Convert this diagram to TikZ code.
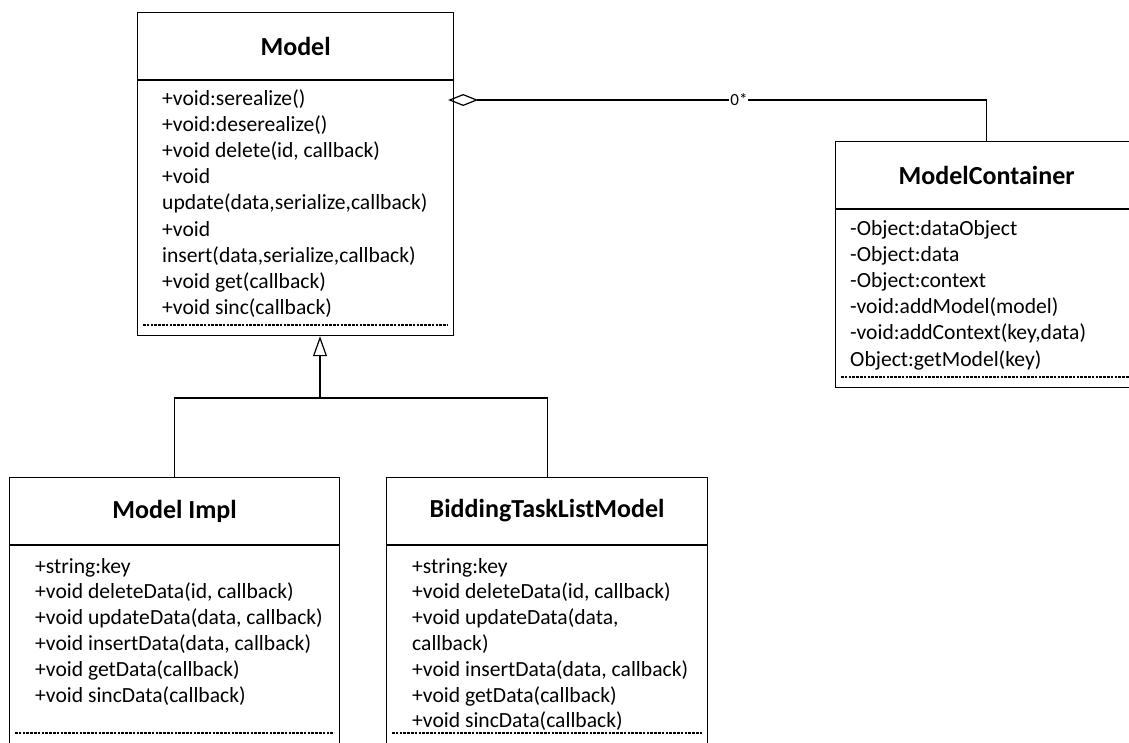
\documentclass[tikz,border=0pt]{standalone}
\usepackage{fontspec}
\setmainfont{Carlito}
\usetikzlibrary{arrows.meta}
\tikzset{
  classbox/.style={draw, line width=1.2pt, anchor=north west, inner sep=0pt},
  classname/.style={font=\bfseries\fontsize{26}{30}\selectfont},
  member/.style={anchor=west, inner sep=0pt, font=\fontsize{21.6}{25}\selectfont, text height=14pt, text depth=4pt},
  sepline/.style={line width=1.2pt},
  opline/.style={line width=1.1pt, dash pattern=on 2.5pt off 1.3pt},
  link/.style={line width=1.2pt},
}
\begin{document}
\begin{tikzpicture}[x=1pt,y=-1pt]
    \useasboundingbox (0,0) rectangle (1129,742);
    % class boxes
    \node[classbox, minimum width=316pt, minimum height=323pt] (model) at (137,12) {};
    \node[classbox, minimum width=302pt, minimum height=246pt] (cont) at (835,141) {};
    \node[classbox, minimum width=330pt, minimum height=300pt] (impl) at (9,477) {};
    \node[classbox, minimum width=321pt, minimum height=300pt] (bid) at (386,477) {};
    % headers
    \foreach \c in {model,cont,impl,bid}
        \draw[sepline] ([yshift=-68pt]\c.north west) -- ([yshift=-68pt]\c.north east);
    \node[classname] (model-t) at ([yshift=-34pt]model.north) {Model};
    \node[classname] (cont-t) at ([yshift=-34pt]cont.north) {ModelContainer};
    \node[classname] (impl-t) at ([yshift=-34pt]impl.north) {Model Impl};
    \node[classname] (bid-t) at ([yshift=-34pt]bid.north) {BiddingTaskListModel};
    % operation separators
    \draw[opline] ([shift={(6,313)}]model.north west) -- ([shift={(-6,313)}]model.north east);
    \draw[opline] ([shift={(6,236)}]cont.north west) -- ([shift={(-6,236)}]cont.north east);
    \draw[opline] ([shift={(6,256)}]impl.north west) -- ([shift={(-6,256)}]impl.north east);
    \draw[opline] ([shift={(6,256)}]bid.north west) -- ([shift={(-6,256)}]bid.north east);
    % members
    \foreach \t [count=\i from 0] in {+void:serealize(), +void:deserealize(),
        {+void delete(id, callback)}, +void, {update(data,serialize,callback)},
        +void, {insert(data,serialize,callback)}, +void get(callback), +void sinc(callback)}
        \node[member] (model-\i) at (162, 100+26.2*\i) {\t};
    \foreach \t [count=\i from 0] in {-Object:dataObject, -Object:data, -Object:context,
        -void:addModel(model), {-void:addContext(key,data)}, Object:getModel(key)}
        \node[member] (cont-\i) at (850, 230+26.2*\i) {\t};
    \foreach \t [count=\i from 0] in {+string:key, {+void deleteData(id, callback)},
        {+void updateData(data, callback)}, {+void insertData(data, callback)},
        +void getData(callback), +void sincData(callback)}
        \node[member] (impl-\i) at (35, 568+25.8*\i) {\t};
    \foreach \t [count=\i from 0] in {+string:key, {+void deleteData(id, callback)},
        {+void updateData(data,}, callback), {+void insertData(data, callback)},
        +void getData(callback), +void sincData(callback)}
        \node[member] (bid-\i) at (412, 568+25.8*\i) {\t};
    % inheritance
    \coordinate (fork) at (320,398);
    \draw[link] (impl.north) |- (fork) -| (bid.north);
    \draw[link, -{Triangle[open, length=20pt, width=14pt]}] (fork) -- (fork |- model.south);
    % aggregation
    \coordinate (aggtip) at ([xshift=-6pt, yshift=-88pt]model.north east);
    \draw[link, {Diamond[open, length=30pt, width=12pt]}-] (aggtip) -| node[pos=0.27, fill=white, inner sep=1pt, font=\fontsize{17}{17}\selectfont] (mult) {0*} (cont.north);
\end{tikzpicture}
\end{document}
